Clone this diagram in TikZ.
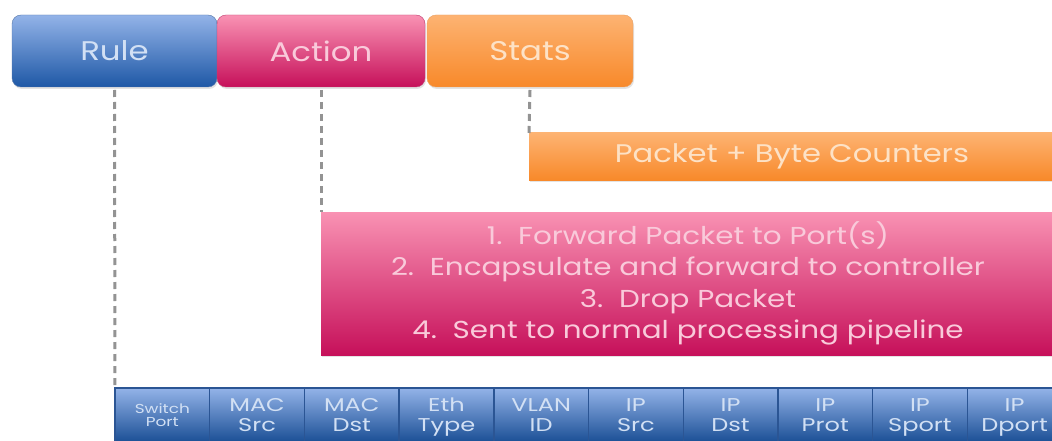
\documentclass[tikz,border=0pt]{standalone}
\usepackage{fontspec}
\setmainfont{Poppins}[FakeStretch=1.2]
\newfontfamily\cellfont{Poppins}[FakeStretch=1.3]
\usetikzlibrary{shadows}
\definecolor{blueT}{HTML}{93B3E8}
\definecolor{blueB}{HTML}{1E58A6}
\definecolor{blueLine}{HTML}{2B5594}
\definecolor{pinkT}{HTML}{F992B3}
\definecolor{pinkB}{HTML}{C6105A}
\definecolor{pinkLine}{HTML}{B2104F}
\definecolor{oraT}{HTML}{FDB372}
\definecolor{oraB}{HTML}{F8892A}
\definecolor{oraLine}{HTML}{E07820}
\definecolor{txtBlue}{HTML}{D2E0F4}
\definecolor{txtPink}{HTML}{F9CADA}
\definecolor{txtOra}{HTML}{FDE2C6}
\definecolor{dashGray}{HTML}{939393}
\tikzset{
  topbox/.style={rectangle, rounded corners=9pt, inner sep=0pt, outer sep=0pt,
    minimum height=72pt, font=\fontsize{27}{30}\selectfont,
    drop shadow={opacity=0.22, shadow xshift=1pt, shadow yshift=-2pt}},
  flatbox/.style={rectangle, inner sep=0pt, outer sep=0pt,
    drop shadow={opacity=0.22, shadow xshift=1pt, shadow yshift=-2pt}},
  cell/.style={rectangle, inner sep=0pt, outer sep=0pt, minimum width=94.7pt,
    minimum height=54pt, anchor=north west, top color=blueT, bottom color=blueB!90!black,
    draw=blueLine, line width=1.4pt, text=txtBlue, align=center,
    font=\cellfont\fontsize{18.5}{20}\selectfont, text depth=0pt},
  dashline/.style={draw=dashGray, line width=3pt, dash pattern=on 7pt off 5pt},
}
\begin{document}
\begin{tikzpicture}[x=1pt,y=-1pt]
\useasboundingbox (0,0) rectangle (1052,441);
\fill[white] (0,0) rectangle (1052,441);
\clip (0,0) rectangle (1052,441);
% top header boxes
\node[topbox, minimum width=205pt, top color=blueT, bottom color=blueB, draw=blueLine!80, text=txtBlue] (rule) at (114.5,51) {Rule};
\node[topbox, minimum width=208pt, top color=pinkT, bottom color=pinkB, draw=pinkLine!80, text=txtPink] (action) at (321,51) {Action};
\node[topbox, minimum width=206pt, top color=oraT, bottom color=oraB, draw=oraLine!70, text=txtOra] (stats) at (530,51) {Stats};
% counters bar
\node[flatbox, minimum width=526pt, minimum height=47pt, anchor=north west,
  top color=oraT, bottom color=oraB, text=txtOra, font=\fontsize{25.5}{28}\selectfont] (counters) at (529,133) {Packet + Byte Counters};
% action list box
\node[flatbox, minimum width=734pt, minimum height=143pt, anchor=north west,
  top color=pinkT, bottom color=pinkB, text=txtPink, align=center,
  font=\fontsize{24.5}{31.5}\selectfont] (actions) at (321,212)
  {1.\ \ Forward Packet to Port(s)\\
   2.\ \ Encapsulate and forward to controller\\
   3.\ \ Drop Packet\\
   4.\ \ Sent to normal processing pipeline};
% match fields
\node[cell, font=\cellfont\fontsize{13}{13.5}\selectfont] (f1) at (115,388) {Switch\\Port};
\node[cell] (f2) at (209.7,388) {MAC\\Src};
\node[cell] (f3) at (304.4,388) {MAC\\Dst};
\node[cell] (f4) at (399.1,388) {Eth\\Type};
\node[cell] (f5) at (493.8,388) {VLAN\\ID};
\node[cell] (f6) at (588.5,388) {IP\\Src};
\node[cell] (f7) at (683.2,388) {IP\\Dst};
\node[cell] (f8) at (777.9,388) {IP\\Prot};
\node[cell] (f9) at (872.6,388) {IP\\Sport};
\node[cell] (f10) at (967.3,388) {IP\\Dport};
% dashed connectors
\draw[dashline] ([yshift=-3pt]rule.south) -- (f1.north west);
\draw[dashline] ([yshift=-3pt]action.south) -- (actions.north west);
\draw[dashline] ([yshift=-3pt]stats.south) -- (counters.north west);
\end{tikzpicture}
\end{document}
